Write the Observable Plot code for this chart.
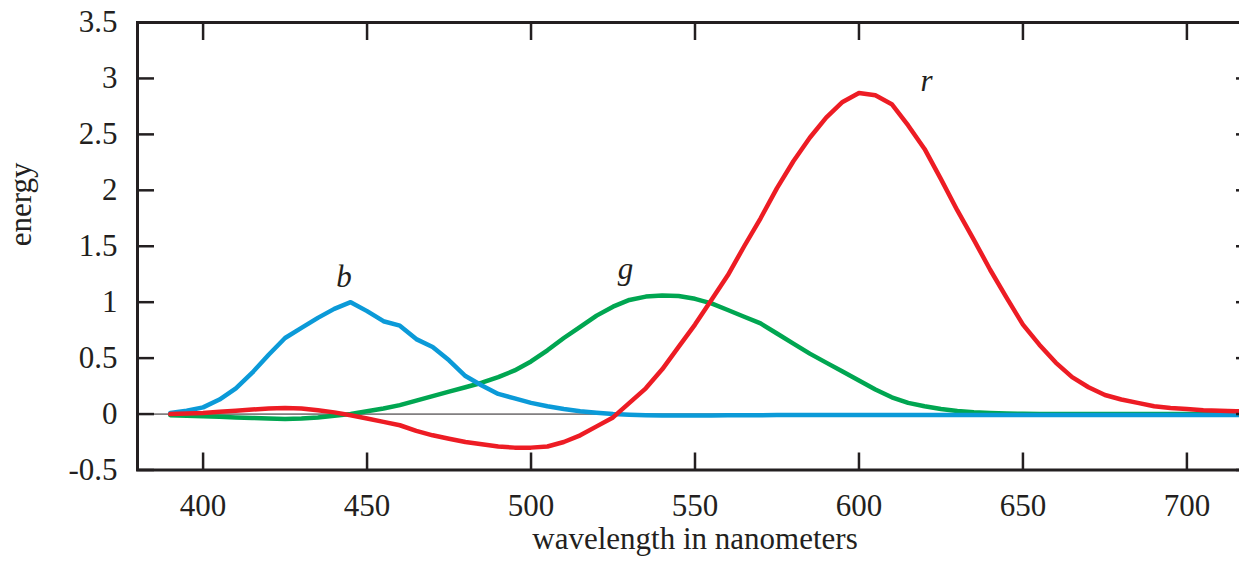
<!DOCTYPE html>
<html>
<head>
<meta charset="utf-8">
<script src="https://cdn.jsdelivr.net/npm/d3@7"></script>
<script src="https://cdn.jsdelivr.net/npm/@observablehq/plot@0.6"></script>
<style>
html, body { margin: 0; padding: 0; background: #fff; overflow: hidden; }
#chart { width: 1239px; height: 566px; overflow: hidden; }
</style>
</head>
<body>
<div id="chart"></div>
<script>
// wavelength (nm)
const wavelengths = [390,395,400,405,410,415,420,425,430,435,440,445,450,455,460,465,470,475,480,485,490,495,500,505,510,515,520,525,530,535,540,545,550,555,560,565,570,575,580,585,590,595,600,605,610,615,620,625,630,635,640,645,650,655,660,665,670,675,680,685,690,695,700,705,710,715,720];
// r curve (energy)
const rValues = [0.0,0.005,0.01,0.02,0.03,0.04,0.05,0.055,0.05,0.035,0.015,-0.01,-0.04,-0.07,-0.10,-0.15,-0.19,-0.22,-0.25,-0.27,-0.29,-0.30,-0.30,-0.29,-0.25,-0.19,-0.11,-0.03,0.10,0.23,0.40,0.60,0.80,1.02,1.24,1.50,1.75,2.02,2.26,2.47,2.65,2.79,2.87,2.85,2.77,2.58,2.37,2.10,1.82,1.56,1.29,1.04,0.80,0.62,0.46,0.33,0.24,0.17,0.13,0.10,0.07,0.055,0.045,0.035,0.03,0.025,0.02];
// g curve
const gValues = [-0.01,-0.015,-0.02,-0.025,-0.03,-0.035,-0.04,-0.045,-0.04,-0.03,-0.015,0.0,0.025,0.05,0.08,0.12,0.16,0.20,0.24,0.28,0.33,0.39,0.47,0.57,0.68,0.78,0.88,0.96,1.02,1.05,1.06,1.055,1.03,0.99,0.93,0.87,0.81,0.72,0.63,0.54,0.46,0.38,0.30,0.22,0.15,0.10,0.07,0.045,0.028,0.016,0.009,0.005,0.002,0,0,0,0,0,0,0,0,0,0,0,0,0,0];
// b curve
const bValues = [0.01,0.03,0.06,0.13,0.23,0.37,0.53,0.68,0.77,0.86,0.94,1.00,0.92,0.83,0.79,0.67,0.60,0.48,0.34,0.255,0.18,0.14,0.10,0.07,0.045,0.025,0.012,0.0,-0.006,-0.01,-0.012,-0.012,-0.012,-0.012,-0.011,-0.01,-0.01,-0.009,-0.009,-0.008,-0.008,-0.008,-0.008,-0.008,-0.008,-0.008,-0.008,-0.008,-0.008,-0.008,-0.008,-0.008,-0.008,-0.008,-0.008,-0.008,-0.008,-0.008,-0.008,-0.008,-0.008,-0.008,-0.008,-0.008,-0.008,-0.008,-0.008];

const seriesNames = ["g", "b", "r"];
const seriesColors = ["#00a651", "#0b9ad8", "#ed1c24"];

const xTicks = [400, 450, 500, 550, 600, 650, 700];
const xTickLabels = ["400", "450", "500", "550", "600", "650", "700"];
const yTicks = [-0.5, 0, 0.5, 1, 1.5, 2, 2.5, 3, 3.5];
const yTickLabels = ["-0.5", "0", "0.5", "1", "1.5", "2", "2.5", "3", "3.5"];

// curve name labels (nm, energy of baseline)
const curveLabels = ["r", "g", "b"];
const curveLabelX = [620.6, 528.8, 443];
const curveLabelY = [2.89, 1.21, 1.14];

const xLabel = "wavelength in nanometers";
const yLabel = "energy";

const valuesBySeries = {r: rValues, g: gValues, b: bValues};
const rows = [];
for (const s of seriesNames) {
  wavelengths.forEach((w, i) => rows.push({series: s, wl: w, v: valuesBySeries[s][i]}));
}
const labelRows = curveLabels.map((t, i) => ({t, x: curveLabelX[i], y: curveLabelY[i]}));

const ink = "#231f20";
const fs = 31;

const chart = Plot.plot({
  width: 1270,
  height: 566,
  marginLeft: 137,
  marginRight: 18,
  marginTop: 22,
  marginBottom: 96.5,
  style: {fontFamily: "'Liberation Serif', 'Times New Roman', serif", fontSize: fs + "px", color: ink, background: "#fff", maxWidth: "none", overflow: "visible"},
  x: {domain: [380, 720]},
  y: {domain: [-0.5, 3.5]},
  color: {domain: seriesNames, range: seriesColors},
  marks: [
    Plot.ruleY([0], {stroke: ink, strokeWidth: 1}),
    Plot.line(rows, {x: "wl", y: "v", z: "series", stroke: "series", strokeWidth: 4.5, strokeLinejoin: "round", strokeLinecap: "round"}),
    // tick labels
    Plot.axisX(xTicks, {anchor: "bottom", tickSize: 0, tickPadding: 23.5, fontSize: fs, label: null, tickFormat: d => xTickLabels[xTicks.indexOf(d)], fill: ink}),
    Plot.axisY(yTicks, {anchor: "left", tickSize: 0, tickPadding: 20, fontSize: fs, label: null, tickFormat: d => yTickLabels[yTicks.indexOf(d)], fill: ink}),
    // inward ticks on all four sides
    Plot.axisX(xTicks, {anchor: "bottom", tickSize: -17, tickFormat: () => "", label: null, stroke: ink, strokeWidth: 2.5}),
    Plot.axisX(xTicks, {anchor: "top", tickSize: -17, tickFormat: () => "", label: null, stroke: ink, strokeWidth: 2.5}),
    Plot.axisY(yTicks, {anchor: "left", tickSize: -17, tickFormat: () => "", label: null, stroke: ink, strokeWidth: 2.5}),
    Plot.axisY(yTicks, {anchor: "right", tickSize: -17, tickFormat: () => "", label: null, stroke: ink, strokeWidth: 2.5}),
    Plot.frame({stroke: ink, strokeWidth: 3}),
    // curve names
    Plot.text(labelRows, {x: "x", y: "y", text: "t", fontStyle: "italic", fontSize: fs, lineAnchor: "bottom", fill: ink}),
    // axis titles
    Plot.text([yLabel], {text: d => d, frameAnchor: "left", rotate: -90, dx: -116, fontSize: fs, lineAnchor: "middle", fill: ink}),
    Plot.text([xLabel], {text: d => d, frameAnchor: "bottom", dy: 78.5, lineAnchor: "bottom", fontSize: fs, fill: ink})
  ]
});
document.getElementById("chart").appendChild(chart);
</script>
</body>
</html>
